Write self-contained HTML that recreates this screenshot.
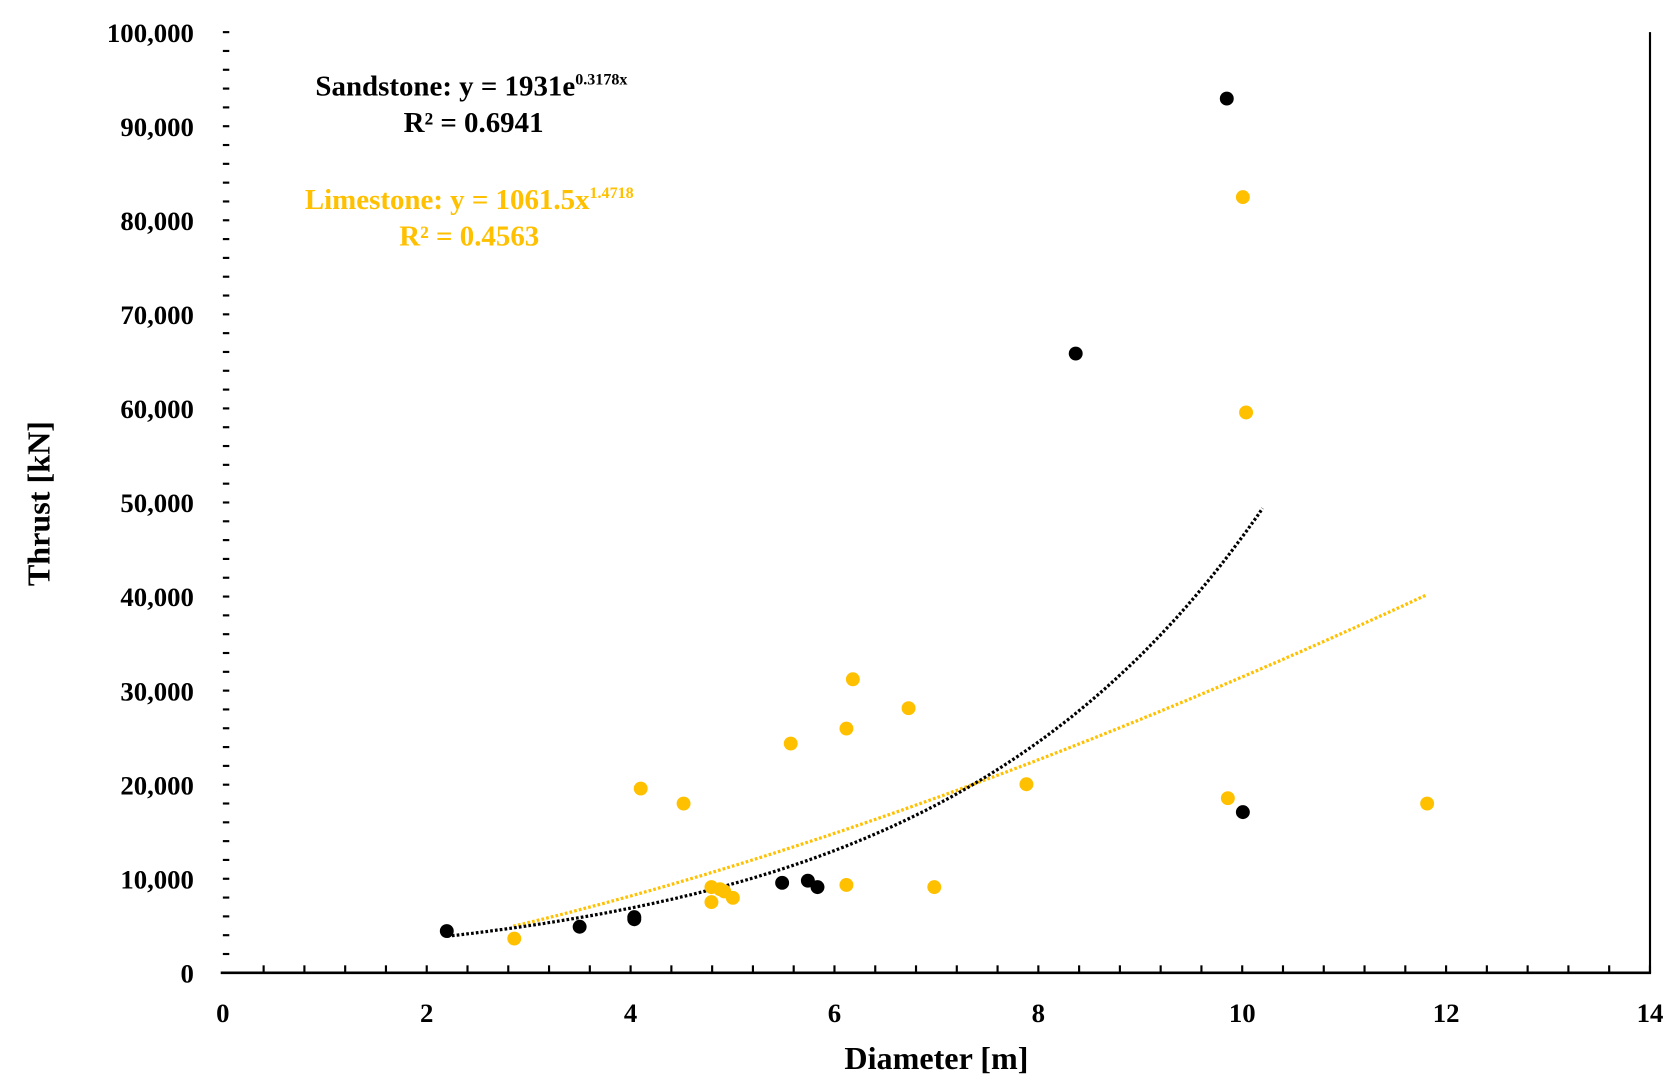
<!DOCTYPE html>
<html><head><meta charset="utf-8"><style>
html,body{margin:0;padding:0;background:#fff;width:1680px;height:1091px;overflow:hidden}
svg{display:block}
text{font-family:"Liberation Serif",serif;font-weight:bold}
</style></head><body>
<svg id="s" width="1680" height="1091" viewBox="0 0 1568 1018.3" preserveAspectRatio="none" xmlns="http://www.w3.org/2000/svg">
<line x1="206" y1="908" x2="1541" y2="908" stroke="#000" stroke-width="2.5"/>
<line x1="1540" y1="908" x2="1540" y2="30" stroke="#000" stroke-width="2"/>
<g id="ticks" stroke="#000" stroke-width="2"></g>
<g id="lab" font-size="25" fill="#000"></g>
<text x="874" y="998" font-size="30" text-anchor="middle">Diameter [m]</text>
<text transform="translate(46,470) rotate(-90)" font-size="30" text-anchor="middle">Thrust [kN]</text>
<text x="440" y="89" font-size="27" text-anchor="middle">Sandstone: y = 1931e<tspan font-size="15" dy="-10">0.3178x</tspan></text>
<text x="442" y="123" font-size="27" text-anchor="middle" font-weight="normal" dy="0">R² = 0.6941</text>
<text x="438" y="195" font-size="27" text-anchor="middle" fill="#FFC000">Limestone: y = 1061.5x<tspan font-size="15" dy="-10">1.4718</tspan></text>
<text x="438" y="229" font-size="27" text-anchor="middle" fill="#FFC000">R² = 0.4563</text>
<path id="pl" fill="none" stroke="#FFC000" stroke-width="3" stroke-dasharray="2.5,2"/>
<path id="pe" fill="none" stroke="#000" stroke-width="3" stroke-dasharray="2.5,2"/>
<g id="pts"></g>
</svg>
<script>
var NS="http://www.w3.org/2000/svg";
function el(p,t,a,txt){var e=document.createElementNS(NS,t);for(var k in a)e.setAttribute(k,a[k]);if(txt!=null)e.textContent=txt;document.getElementById(p).appendChild(e);return e;}
function px(x){return 208+x*95.14}function py(y){return 908-y*0.00878}
for(var i=1;i<=35;i++){var x=px(i*0.4);el("ticks","line",{x1:x,y1:908,x2:x,y2:901});}
for(var i=1;i<=50;i++){var y=py(i*2000);el("ticks","line",{x1:208,y1:y,x2:214,y2:y});}
for(var i=0;i<=10;i++){el("lab","text",{x:181,y:py(i*10000)+9,"text-anchor":"end"},i==0?"0":(i*10)+",000");}
for(var i=0;i<=14;i+=2){el("lab","text",{x:px(i),y:954,"text-anchor":"middle"},""+i);}
var d="";for(var x=2.2;x<=10.2001;x+=0.05){d+=(d?"L":"M")+px(x).toFixed(1)+","+py(1931*Math.exp(0.3178*x)).toFixed(1);}
document.getElementById("pe").setAttribute("d",d);
d="";for(var x=2.85;x<=11.8001;x+=0.05){d+=(d?"L":"M")+px(x).toFixed(1)+","+py(1061.5*Math.pow(x,1.4718)).toFixed(1);}
document.getElementById("pl").setAttribute("d",d);
var O=[[480,876],[598,736],[638,750],[664,842],[664,828],[672,830],[684,838],[676,832],[738,694],[790,680],[790,826],[796,634],[848,661],[872,828],[958,732],[1146,745],[1160,184],[1163,385],[1332,750]];
var B=[[417,869],[541,865],[592,856],[592,858],[730,824],[754,822],[763,828],[1004,330],[1145,92],[1160,758]];
O.forEach(function(p){el("pts","circle",{cx:p[0],cy:p[1],r:6.5,fill:"#FFC000"});});
B.forEach(function(p){el("pts","circle",{cx:p[0],cy:p[1],r:6.5,fill:"#000"});});
</script>
</body></html>
